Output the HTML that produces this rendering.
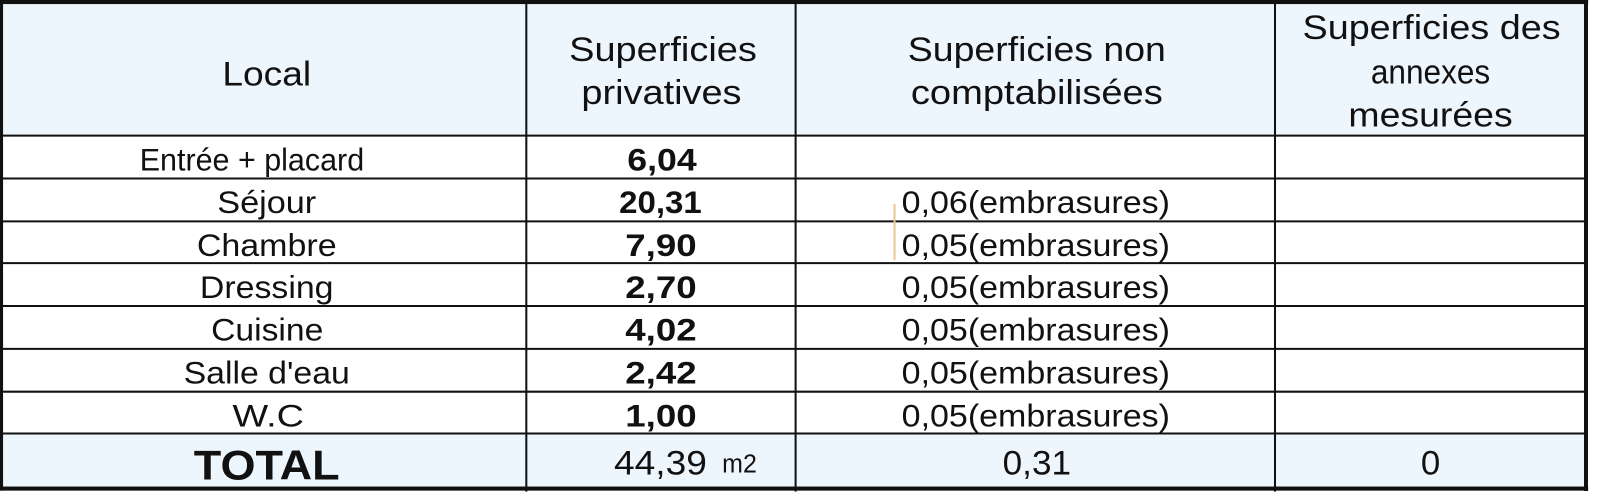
<!DOCTYPE html>
<html><head><meta charset="utf-8"><style>
html,body{margin:0;padding:0;background:#fff;width:1600px;height:495px;overflow:hidden}
svg text{font-family:"Liberation Sans",Arial,sans-serif;fill:#111}
</style></head><body>
<svg width="1600" height="495" viewBox="0 0 1600 495" xmlns="http://www.w3.org/2000/svg">
<rect x="0" y="0" width="1600" height="495" fill="#fff"/>
<g transform="scale(1.02)">
<rect x="3" y="3" width="1552" height="130" fill="#eef6fd"/>
<rect x="3" y="425" width="1552" height="56" fill="#eef6fd"/>
<g stroke="#111" stroke-width="2">
<line x1="0" y1="133" x2="1555" y2="133"/>
<line x1="0" y1="175" x2="1555" y2="175"/>
<line x1="0" y1="217" x2="1555" y2="217"/>
<line x1="0" y1="258" x2="1555" y2="258"/>
<line x1="0" y1="300" x2="1555" y2="300"/>
<line x1="0" y1="342" x2="1555" y2="342"/>
<line x1="0" y1="384" x2="1555" y2="384"/>
<line x1="0" y1="425" x2="1555" y2="425"/>
<line x1="516" y1="0" x2="516" y2="482"/>
<line x1="780" y1="0" x2="780" y2="482"/>
<line x1="1250" y1="0" x2="1250" y2="482"/>
</g>
<rect x="0" y="0" width="1557" height="4" fill="#111"/>
<rect x="0" y="477" width="1557" height="4" fill="#111"/>
<rect x="0" y="0" width="3" height="481" fill="#111"/>
<line x1="877" y1="200" x2="877" y2="255" stroke="#e8c890" stroke-width="2"/>
<g font-size="34">
<text x="218" y="84" textLength="87" lengthAdjust="spacingAndGlyphs">Local</text>
<text x="558" y="60" textLength="184" lengthAdjust="spacingAndGlyphs">Superficies</text>
<text x="570" y="102" textLength="157" lengthAdjust="spacingAndGlyphs">privatives</text>
<text x="890" y="60" textLength="253" lengthAdjust="spacingAndGlyphs">Superficies non</text>
<text x="893" y="102" textLength="247" lengthAdjust="spacingAndGlyphs">comptabilisées</text>
<text x="1277" y="38" textLength="253" lengthAdjust="spacingAndGlyphs">Superficies des</text>
<text x="1344" y="82" textLength="117" lengthAdjust="spacingAndGlyphs">annexes</text>
<text x="1322" y="124" textLength="161" lengthAdjust="spacingAndGlyphs">mesurées</text>
</g>
<g font-size="31">
<text x="137" y="167" textLength="220" lengthAdjust="spacingAndGlyphs">Entrée + placard</text>
<text x="213" y="209" textLength="97" lengthAdjust="spacingAndGlyphs">Séjour</text>
<text x="193" y="251" textLength="137" lengthAdjust="spacingAndGlyphs">Chambre</text>
<text x="196" y="292" textLength="131" lengthAdjust="spacingAndGlyphs">Dressing</text>
<text x="207" y="334" textLength="110" lengthAdjust="spacingAndGlyphs">Cuisine</text>
<text x="180" y="376" textLength="163" lengthAdjust="spacingAndGlyphs">Salle d'eau</text>
<text x="228" y="418" textLength="70" lengthAdjust="spacingAndGlyphs">W.C</text>
</g>
<g font-size="31" font-weight="bold">
<text x="615" y="167" textLength="68" lengthAdjust="spacingAndGlyphs">6,04</text>
<text x="607" y="209" textLength="81" lengthAdjust="spacingAndGlyphs">20,31</text>
<text x="613" y="251" textLength="70" lengthAdjust="spacingAndGlyphs">7,90</text>
<text x="613" y="292" textLength="70" lengthAdjust="spacingAndGlyphs">2,70</text>
<text x="613" y="334" textLength="70" lengthAdjust="spacingAndGlyphs">4,02</text>
<text x="613" y="376" textLength="70" lengthAdjust="spacingAndGlyphs">2,42</text>
<text x="613" y="418" textLength="70" lengthAdjust="spacingAndGlyphs">1,00</text>
</g>
<g font-size="31">
<text x="884" y="209" textLength="263" lengthAdjust="spacingAndGlyphs">0,06(embrasures)</text>
<text x="884" y="251" textLength="263" lengthAdjust="spacingAndGlyphs">0,05(embrasures)</text>
<text x="884" y="292" textLength="263" lengthAdjust="spacingAndGlyphs">0,05(embrasures)</text>
<text x="884" y="334" textLength="263" lengthAdjust="spacingAndGlyphs">0,05(embrasures)</text>
<text x="884" y="376" textLength="263" lengthAdjust="spacingAndGlyphs">0,05(embrasures)</text>
<text x="884" y="418" textLength="263" lengthAdjust="spacingAndGlyphs">0,05(embrasures)</text>
</g>
<text x="190" y="470" font-size="41" font-weight="bold" textLength="143" lengthAdjust="spacingAndGlyphs">TOTAL</text>
<text x="602" y="465" font-size="34" textLength="91" lengthAdjust="spacingAndGlyphs">44,39</text>
<text x="708" y="463" font-size="25" textLength="34" lengthAdjust="spacingAndGlyphs">m2</text>
<text x="983" y="465" font-size="34" textLength="67" lengthAdjust="spacingAndGlyphs">0,31</text>
<text x="1393" y="465" font-size="34" textLength="19" lengthAdjust="spacingAndGlyphs">0</text>
</g>
<rect x="1584" y="0" width="4" height="491" fill="#111"/>
</svg>
</body></html>
